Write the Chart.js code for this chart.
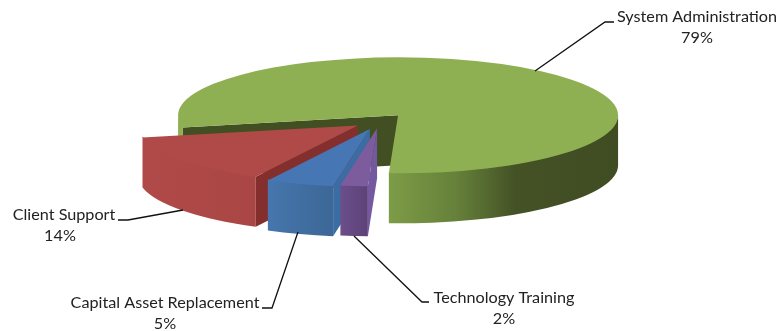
<!DOCTYPE html>
<html>
<head>
<meta charset="utf-8">
<style>
  html, body { margin: 0; padding: 0; background: #fff; }
  #wrap { width: 781px; height: 331px; }
</style>
<script src="https://cdn.jsdelivr.net/npm/chart.js@4"></script>
</head>
<body>
<div id="wrap"><canvas id="chart" width="781" height="331"></canvas></div>
<script>
const categories = ["System Administration", "Technology Training", "Capital Asset Replacement", "Client Support"];
const shares = [79, 2, 5, 14];
const topColors = ["#8fb052", "#7d5c9e", "#4676b3", "#b04a48"];

// how far each slice is pulled out of the pie, and paint order back to front
const explode = [28, 28, 32, 28];
const paintOrder = [0, 3, 2, 1];

const squash = 58 / 220;
const depth = 50;

const rimStops = [
  [[0, "#7d9c47"], [0.3, "#65803a"], [0.55, "#445226"], [1, "#404c22"]],
  [[0, "#6b4e8a"], [1, "#5d4279"]],
  [[0, "#4676ad"], [0.6, "#406d9f"], [1, "#3c6797"]],
  [[0, "#b04a48"], [1, "#a94644"]],
];
const cutColors = ["#414f22", "#7458a0", "#3b6ca3", "#842f2e"];

// leader lines and label text blocks
const leaders = [
  [[535, 71], [605, 22], [614, 22]],
  [[354, 236], [422, 302], [429, 302]],
  [[298, 232], [272, 308], [262, 308]],
  [[183, 210], [128, 220], [118, 220]],
];
const labelPos = [[697, 17], [504, 298], [165, 303], [60, 215]];

function rimGradient(ctx, i, x0, x1) {
  const g = ctx.createLinearGradient(x0, 0, x1, 0);
  rimStops[i].forEach(([at, c]) => g.addColorStop(at, c));
  return g;
}

function shiftFor(arc, i) {
  const mid = (arc.startAngle + arc.endAngle) / 2;
  return { dx: Math.cos(mid) * explode[i], dy: Math.sin(mid) * explode[i] * squash };
}

function screenPoint(arc, angle, shift, r) {
  return {
    x: arc.x + shift.dx + Math.cos(angle) * r,
    y: arc.y + shift.dy + Math.sin(angle) * r * squash,
  };
}

// extruded sides of a slice, in screen pixels
function drawWalls(ctx, arc, i) {
  const shift = shiftFor(arc, i);
  const r = arc.outerRadius;
  const apex = screenPoint(arc, 0, shift, 0);

  // the cut face at the start angle is the one that looks towards the viewer
  const p = screenPoint(arc, arc.startAngle, shift, r);
  ctx.fillStyle = cutColors[i];
  ctx.beginPath();
  ctx.moveTo(apex.x, apex.y);
  ctx.lineTo(p.x, p.y);
  ctx.lineTo(p.x, p.y + depth);
  ctx.lineTo(apex.x, apex.y + depth);
  ctx.closePath();
  ctx.fill();

  // outer rim, only the front half of the ellipse shows
  const twoPi = Math.PI * 2;
  for (let k = -1; k <= 2; k++) {
    const from = Math.max(arc.startAngle, k * twoPi);
    const to = Math.min(arc.endAngle, k * twoPi + Math.PI);
    if (to <= from) continue;
    const a = screenPoint(arc, from, shift, r);
    const b = screenPoint(arc, to, shift, r);
    // the short green piece on the far left catches the light
    const litPiece = i === 0 && Math.max(a.x, b.x) < arc.x - 100;
    ctx.fillStyle = litPiece ? topColors[0] : rimGradient(ctx, i, Math.min(a.x, b.x), Math.max(a.x, b.x));
    ctx.beginPath();
    // start a pixel high so no pale seam shows under the top face
    ctx.ellipse(arc.x + shift.dx, arc.y + shift.dy - 1, r, r * squash, 0, from, to);
    ctx.lineTo(b.x, b.y + depth);
    ctx.ellipse(arc.x + shift.dx, arc.y + shift.dy + depth, r, r * squash, 0, to, from, true);
    ctx.closePath();
    ctx.fill();
  }
}

const pie3d = {
  id: "pie3d",
  beforeDatasetsDraw(chart) {
    const ctx = chart.ctx;
    const arcs = chart.getDatasetMeta(0).data;
    paintOrder.forEach((i) => {
      const arc = arcs[i];
      drawWalls(ctx, arc, i);
      const shift = shiftFor(arc, i);
      ctx.save();
      ctx.translate(shift.dx, arc.y + shift.dy);
      ctx.scale(1, squash);
      ctx.translate(0, -arc.y);
      arc.draw(ctx);
      ctx.restore();
    });
    return false;
  },
  afterDraw(chart) {
    const ctx = chart.ctx;
    ctx.save();
    ctx.strokeStyle = "#111";
    ctx.lineWidth = 1.3;
    leaders.forEach((pts) => {
      ctx.beginPath();
      pts.forEach(([x, y], k) => (k ? ctx.lineTo(x, y) : ctx.moveTo(x, y)));
      ctx.stroke();
    });
    ctx.fillStyle = "#222";
    ctx.font = "16.2px Lato";
    ctx.textAlign = "center";
    ctx.textBaseline = "middle";
    categories.forEach((name, i) => {
      const [x, y] = labelPos[i];
      const nameX = i === 3 ? 64 : x;
      ctx.fillText(name, nameX, y);
      ctx.fillText(shares[i] + "%", x, y + 21);
    });
    ctx.restore();
  },
};

new Chart(document.getElementById("chart"), {
  type: "pie",
  data: {
    labels: categories,
    datasets: [{ data: shares, backgroundColor: topColors, borderWidth: 0 }],
  },
  options: {
    responsive: false,
    animation: false,
    rotation: 258,
    radius: 220,
    layout: { padding: { right: 21, bottom: 89 } },
    plugins: { legend: { display: false }, tooltip: { enabled: false } },
  },
  plugins: [pie3d],
});
</script>
</body>
</html>
